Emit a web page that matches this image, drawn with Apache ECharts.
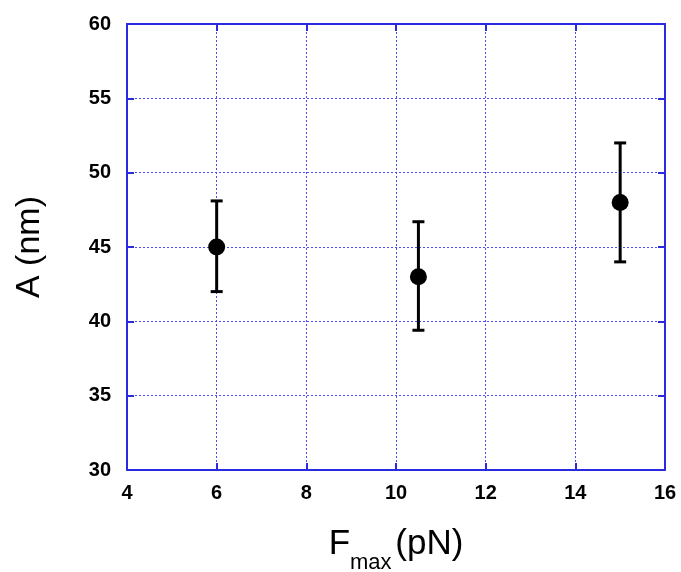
<!DOCTYPE html>
<html>
<head>
<meta charset="utf-8">
<script src="https://cdn.jsdelivr.net/npm/echarts@6/dist/echarts.min.js"></script>
<style>
  html, body { margin: 0; padding: 0; background: #fff; }
  #chart { width: 681px; height: 572px; }
</style>
</head>
<body>
<div id="chart"></div>
<script>
// data
const forceMax = [6, 10.5, 15]
const amplitude = [45, 43, 48]
const errLow = [42, 39.4, 44]
const errHigh = [48.1, 46.7, 52]
const xTicks = [4, 6, 8, 10, 12, 14, 16]
const yTicks = [30, 35, 40, 45, 50, 55, 60]

const blue = "#2a2adf"
const gridBlue = "#4b4bff"
const font = "Liberation Sans, Arial, sans-serif"

const chart = echarts.init(document.getElementById("chart"))

const points = forceMax.map((x, i) => [x, amplitude[i]])
const bars = forceMax.map((x, i) => [x, errLow[i], errHigh[i]])

const axisBase = {
  type: "value",
  axisLine: { show: true, onZero: false, lineStyle: { color: blue, width: 2 } },
  axisTick: { show: true, inside: true, length: 7, lineStyle: { color: blue, width: 2 } },
  splitLine: { show: false },
}

const option = {
  animation: false,
  grid: { left: 127, right: 16, top: 24, bottom: 102, show: false, outerBoundsMode: "none" },
  xAxis: [
    {
      ...axisBase,
      min: xTicks[0],
      max: xTicks[xTicks.length - 1],
      interval: 2,
      position: "bottom",
      axisLabel: {
        color: "#000",
        fontFamily: font,
        fontWeight: "bold",
        fontSize: 20,
        margin: 13,
      },
      splitLine: { show: true, lineStyle: { color: gridBlue, type: [2, 2], width: 1 } },
      name: "{f|F}{s|max}{p| (pN)}",
      nameLocation: "middle",
      nameGap: 62,
      nameTextStyle: {
        rich: {
          f: { fontFamily: font, fontSize: 35, color: "#000", verticalAlign: "bottom", lineHeight: 42, padding: [0, 0, 12, 0] },
          s: { fontFamily: font, fontSize: 22, color: "#000", verticalAlign: "bottom", lineHeight: 42, padding: [0, 0, 0, 0] },
          p: { fontFamily: font, fontSize: 35, color: "#000", verticalAlign: "bottom", lineHeight: 42, padding: [0, 0, 12, -6] },
        },
      },
    },
    {
      ...axisBase,
      min: xTicks[0],
      max: xTicks[xTicks.length - 1],
      interval: 2,
      position: "top",
      axisLabel: { show: false },
    },
  ],
  yAxis: [
    {
      ...axisBase,
      min: yTicks[0],
      max: yTicks[yTicks.length - 1],
      interval: 5,
      position: "left",
      axisLabel: {
        color: "#000",
        fontFamily: font,
        fontWeight: "bold",
        fontSize: 20,
        margin: 16,
      },
      splitLine: { show: true, lineStyle: { color: gridBlue, type: [2, 2], width: 1 } },
      name: "A (nm)",
      nameLocation: "middle",
      nameGap: 80,
      nameRotate: 90,
      nameTextStyle: { fontFamily: font, fontSize: 34, color: "#000" },
    },
    {
      ...axisBase,
      min: yTicks[0],
      max: yTicks[yTicks.length - 1],
      interval: 5,
      position: "right",
      axisLabel: { show: false },
    },
  ],
  series: [
    {
      type: "custom",
      data: bars,
      z: 3,
      renderItem: (params, api) => {
        const x = api.value(0)
        const lo = api.coord([x, api.value(1)])
        const hi = api.coord([x, api.value(2)])
        const cap = 6
        const style = { stroke: "#000", lineWidth: 3 }
        return {
          type: "group",
          children: [
            { type: "line", shape: { x1: lo[0], y1: lo[1], x2: hi[0], y2: hi[1] }, style },
            { type: "line", shape: { x1: lo[0] - cap, y1: lo[1], x2: lo[0] + cap, y2: lo[1] }, style },
            { type: "line", shape: { x1: hi[0] - cap, y1: hi[1], x2: hi[0] + cap, y2: hi[1] }, style },
          ],
        }
      },
    },
    {
      type: "scatter",
      data: points,
      symbol: "circle",
      symbolSize: 17,
      z: 4,
      itemStyle: { color: "#000", opacity: 1 },
    },
  ],
}

chart.setOption(option)
</script>
</body>
</html>
